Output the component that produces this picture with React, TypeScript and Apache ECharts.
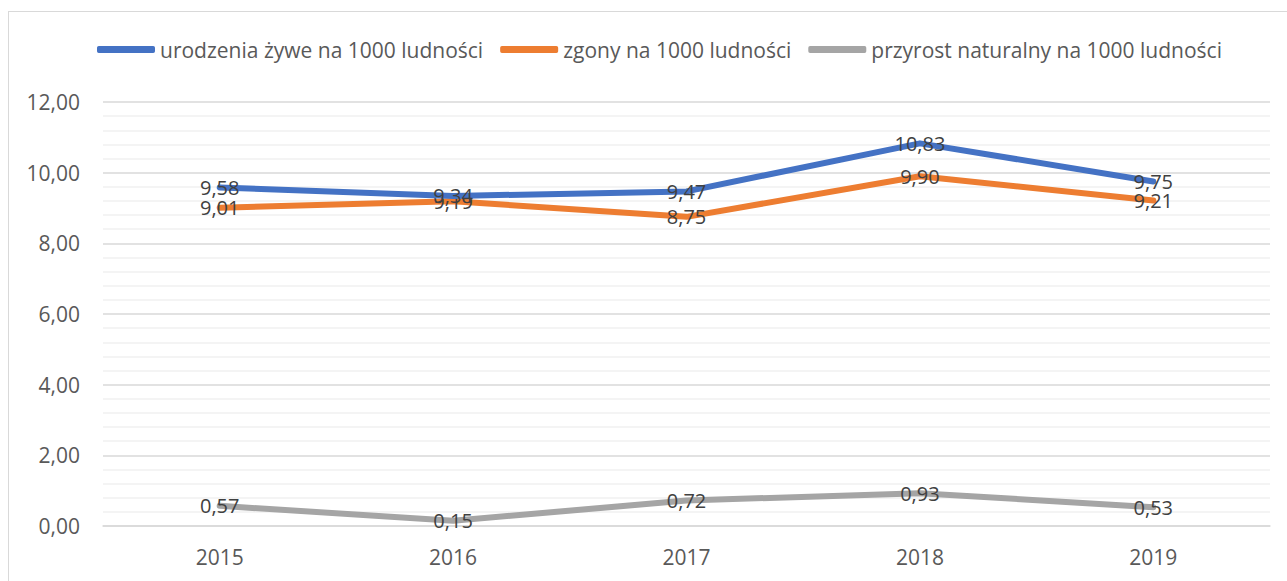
import React, { useEffect, useRef } from "react";
import * as echarts from "echarts";

const years = ["2015", "2016", "2017", "2018", "2019"];
const births = [9.58, 9.34, 9.47, 10.83, 9.75];
const deaths = [9.01, 9.19, 8.75, 9.9, 9.21];
const naturalGrowth = [0.57, 0.15, 0.72, 0.93, 0.53];
const seriesNames = [
  "urodzenia żywe na 1000 ludności",
  "zgony na 1000 ludności",
  "przyrost naturalny na 1000 ludności",
];
const colors = ["#4472C4", "#ED7D31", "#A5A5A5"];

const fmt = (v: number) => v.toFixed(2).replace(".", ",");
const FONT = "'Open Sans', sans-serif";

export default function App() {
  const ref = useRef<HTMLDivElement>(null);
  useEffect(() => {
    if (!ref.current) return;
    const chart = echarts.init(ref.current, undefined, { renderer: "svg" });
    const datasets = [births, deaths, naturalGrowth];
    chart.setOption({
      animation: false,
      textStyle: { fontFamily: FONT },
      legend: {
        top: 34,
        left: 92,
        icon: "roundRect",
        itemWidth: 58,
        itemHeight: 7,
        itemGap: 17,
        textStyle: { color: "#595959", fontSize: 21, fontFamily: FONT },
        data: seriesNames,
      },
      grid: { left: 103, right: 17, top: 102, bottom: 55 },
      xAxis: {
        type: "category",
        data: years,
        boundaryGap: true,
        axisLine: { lineStyle: { color: "#d9d9d9", width: 1.5 } },
        axisTick: { show: false },
        axisLabel: { color: "#595959", fontSize: 21, margin: 20, fontFamily: FONT },
      },
      yAxis: {
        type: "value",
        min: 0,
        max: 12,
        interval: 2,
        axisLine: { show: false },
        axisTick: { show: false },
        axisLabel: {
          color: "#595959",
          fontSize: 21,
          margin: 23,
          fontFamily: FONT,
          formatter: (v: number) => fmt(v),
        },
        splitLine: { lineStyle: { color: "#d9d9d9", width: 1.5 } },
        minorTick: { show: false, splitNumber: 5 },
        minorSplitLine: { show: true, lineStyle: { color: "#f0f0f0", width: 1.5 } },
      },
      series: seriesNames.map((name, i) => ({
        name,
        type: "line",
        data: datasets[i],
        symbol: "circle",
        symbolSize: 0,
        showSymbol: true,
        color: colors[i],
        itemStyle: { color: colors[i] },
        lineStyle: { width: 6, color: colors[i], cap: "round", join: "round" },
        label: {
          show: true,
          position: "inside",
          offset: [0, 2],
          color: "#404040",
          fontSize: 20,
          fontFamily: FONT,
          formatter: (p: any) => fmt(p.value),
        },
        labelLayout: { hideOverlap: false },
        z: 3 - i,
      })),
    });
    return () => chart.dispose();
  }, []);
  return (
    <div style={{ position: "fixed", left: 0, top: 0, width: 1287, height: 581, background: "#fff" }}>
      <div
        style={{
          position: "absolute",
          left: 8,
          top: 11,
          width: 1300,
          height: 600,
          border: "1.5px solid #d9d9d9",
          boxSizing: "border-box",
        }}
      />
      <div ref={ref} style={{ position: "absolute", left: 0, top: 0, width: 1287, height: 581 }} />
    </div>
  );
}
